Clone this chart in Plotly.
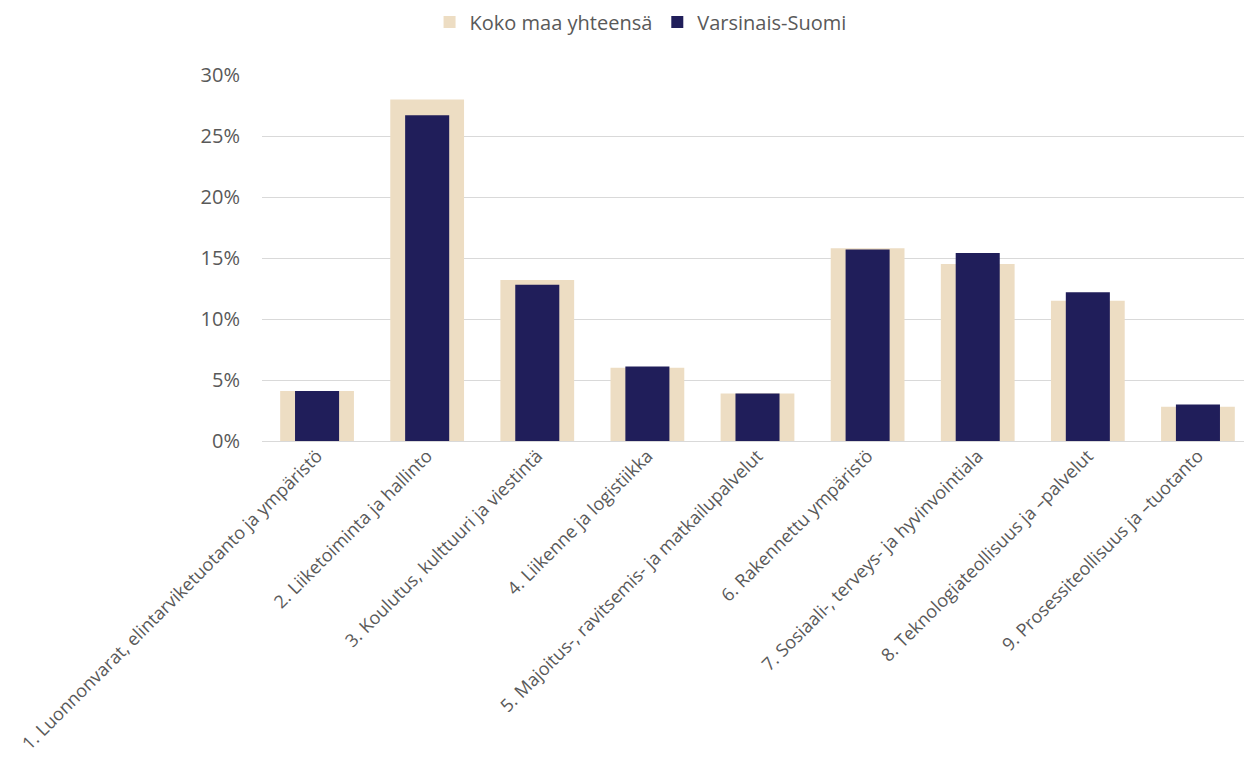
import plotly.graph_objects as go

categories = [
    "1. Luonnonvarat, elintarviketuotanto ja ympäristö",
    "2. Liiketoiminta ja hallinto",
    "3. Koulutus, kulttuuri ja viestintä",
    "4. Liikenne ja logistiikka",
    "5. Majoitus-, ravitsemis- ja matkailupalvelut",
    "6. Rakennettu ympäristö",
    "7. Sosiaali-, terveys- ja hyvinvointiala",
    "8. Teknologiateollisuus ja –palvelut",
    "9. Prosessiteollisuus ja –tuotanto",
]
koko_maa = [0.041, 0.280, 0.132, 0.060, 0.039, 0.158, 0.145, 0.115, 0.028]
varsinais_suomi = [0.041, 0.267, 0.128, 0.061, 0.039, 0.157, 0.154, 0.122, 0.030]

font_family = "Open Sans, Liberation Sans, sans-serif"
text_color = "#595959"

fig = go.Figure()
fig.add_trace(go.Bar(
    x=categories, y=koko_maa, name="Koko maa yhteensä",
    marker=dict(color="#EDDDC3", line=dict(width=0)), width=0.67,
))
fig.add_trace(go.Bar(
    x=categories, y=varsinais_suomi, name="Varsinais-Suomi",
    marker=dict(color="#201E5A", line=dict(width=0)), width=0.4,
))

fig.update_layout(
    width=1245, height=768,
    barmode="overlay",
    paper_bgcolor="white", plot_bgcolor="white",
    margin=dict(l=254, r=0, t=67, b=335, autoexpand=False),
    font=dict(family=font_family, color=text_color, size=19),
    legend=dict(orientation="h", x=0.382, xanchor="center", y=1.145,
                yanchor="middle", font=dict(size=20, color=text_color),
                itemwidth=30),
    showlegend=True,
)
fig.update_yaxes(
    range=[0, 0.30], tickformat=".0%", dtick=0.05,
    showgrid=True, gridcolor="#D9D9D9", gridwidth=1,
    zeroline=True, zerolinecolor="#D9D9D9", zerolinewidth=1,
    showline=False, ticks="", ticklen=0, automargin=False,
    ticklabelstandoff=21,
    tickfont=dict(size=20, color=text_color),
)
fig.update_xaxes(
    tickangle=-45, showline=False, ticks="", showgrid=False, automargin=False,
    tickfont=dict(size=18, color=text_color),
)

fig.write_html("out.html")
